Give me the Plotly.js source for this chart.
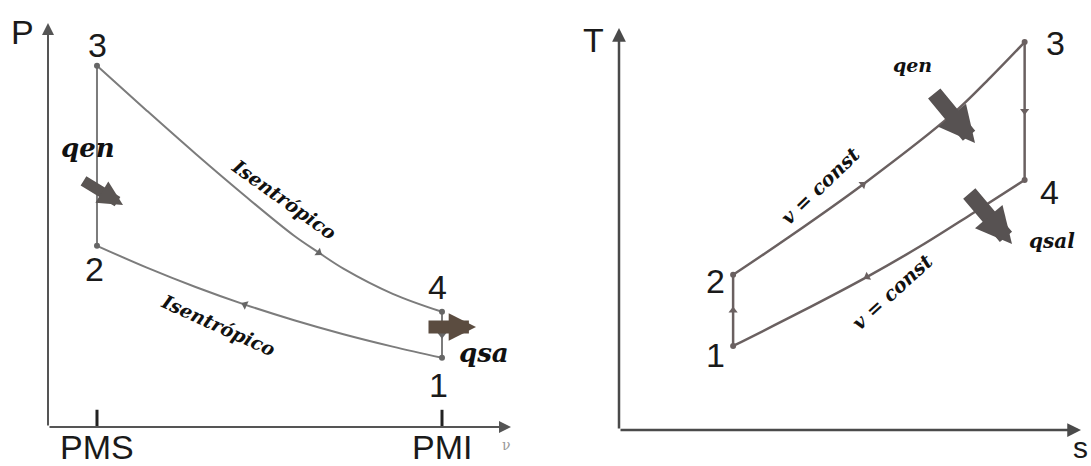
<!DOCTYPE html>
<html>
<head>
<meta charset="utf-8">
<script src="https://cdn.plot.ly/plotly-3.0.1.min.js"></script>
<style>html,body{margin:0;padding:0;background:#fff;}#chart{width:1091px;height:466px;}</style>
</head>
<body>
<div id="chart"></div>
<script>
// ---------- P-v diagram (Otto cycle) ----------
// compression 1 -> 2 (isentropic)
const vCompression = [8, 7, 6, 5, 4, 3, 2, 1];
const pCompression = [1.73, 2.01, 2.32, 2.67, 3.06, 3.50, 3.99, 4.53];
// expansion 3 -> 4 (isentropic)
const vExpansion = [1, 2, 3, 4, 5, 5.5, 6, 7, 8];
const pExpansion = [9.03, 7.92, 6.83, 5.78, 4.78, 4.36, 3.96, 3.33, 2.88];
// states 1..4
const stateNames = ['1', '2', '3', '4'];
const vStates = [8, 1, 1, 8];
const pStates = [1.73, 4.53, 9.03, 2.88];
// v axis marks
const vTickVals = [1, 8];
const vTickText = ['PMS', 'PMI'];

// ---------- T-s diagram ----------
// heat addition 2 -> 3 (v = const)
const sHeatAdd = [2.47, 3.64, 5.28, 7.23, 8.03, 8.78];
const tHeatAdd = [3.86, 4.77, 6.11, 7.87, 8.76, 9.65];
// heat rejection 4 -> 1 (v = const)
const sHeatRej = [8.78, 7.6, 6.52, 5.37, 3.92, 2.47];
const tHeatRej = [6.22, 5.35, 4.57, 3.81, 2.93, 2.09];
const sStates = [2.47, 2.47, 8.78, 8.78];
const tStates = [2.09, 3.86, 9.65, 6.22];

const W = 1091, H = 466;
const X = px => px / W;
const Y = py => 1 - py / H;

const grayL = '#7c7c7c';
const grayR = '#6a6060';
const mid = (a, b) => (a + b) / 2;

const traces = [
  // left: curves
  {x: vCompression, y: pCompression, xaxis: 'x', yaxis: 'y', mode: 'lines',
   line: {color: grayL, width: 2, shape: 'spline', smoothing: 1}},
  {x: vExpansion, y: pExpansion, xaxis: 'x', yaxis: 'y', mode: 'lines',
   line: {color: grayL, width: 2, shape: 'spline', smoothing: 1}},
  {x: [vStates[1], vStates[2]], y: [pStates[1], pStates[2]], xaxis: 'x', yaxis: 'y', mode: 'lines',
   line: {color: grayL, width: 2}},
  {x: [vStates[3], vStates[0]], y: [pStates[3], pStates[0]], xaxis: 'x', yaxis: 'y', mode: 'lines',
   line: {color: grayL, width: 2}},
  {x: vStates, y: pStates, xaxis: 'x', yaxis: 'y', mode: 'markers',
   marker: {color: '#666', size: 6}},
  // left: direction markers
  {x: [vExpansion[5], vCompression[4], vStates[3]],
   y: [pExpansion[5], pCompression[4], mid(pStates[3], pStates[0])],
   xaxis: 'x', yaxis: 'y', mode: 'markers',
   marker: {color: '#666', size: 8, symbol: ['triangle-right', 'triangle-left', 'triangle-down'], angle: [36, 24, 0]}},

  // right: curves
  {x: sHeatAdd, y: tHeatAdd, xaxis: 'x2', yaxis: 'y2', mode: 'lines',
   line: {color: grayR, width: 2.5, shape: 'spline', smoothing: 1}},
  {x: sHeatRej, y: tHeatRej, xaxis: 'x2', yaxis: 'y2', mode: 'lines',
   line: {color: grayR, width: 2.5, shape: 'spline', smoothing: 1}},
  {x: [sStates[0], sStates[1]], y: [tStates[0], tStates[1]], xaxis: 'x2', yaxis: 'y2', mode: 'lines',
   line: {color: grayR, width: 2.5}},
  {x: [sStates[2], sStates[3]], y: [tStates[2], tStates[3]], xaxis: 'x2', yaxis: 'y2', mode: 'lines',
   line: {color: grayR, width: 2.5}},
  {x: sStates, y: tStates, xaxis: 'x2', yaxis: 'y2', mode: 'markers',
   marker: {color: grayR, size: 6}},
  {x: [sHeatAdd[2], sHeatRej[3], sStates[0], sStates[2]],
   y: [tHeatAdd[2], tHeatRej[3], mid(tStates[0], tStates[1]), mid(tStates[2], tStates[3])],
   xaxis: 'x2', yaxis: 'y2', mode: 'markers',
   marker: {color: grayR, size: 8, symbol: ['triangle-right', 'triangle-left', 'triangle-up', 'triangle-down'], angle: [-38, -30, 0, 0]}}
];

const numFont = {family: 'Liberation Sans, Arial, sans-serif', size: 34, color: '#1a1a1a'};
const serifFont = (size) => ({family: 'DejaVu Serif, serif', size: size, color: '#111', weight: 'bold', style: 'italic'});

function lbl(text, px, py, font, extra) {
  return Object.assign({text: text, xref: 'paper', yref: 'paper', x: X(px), y: Y(py),
    showarrow: false, font: font, xanchor: 'center', yanchor: 'middle'}, extra || {});
}
function arrow(tipX, tipY, tailX, tailY, color, width, size, head) {
  return {text: '', xref: 'paper', yref: 'paper', x: X(tipX), y: Y(tipY),
    ax: tailX - tipX, ay: tailY - tipY, showarrow: true, arrowhead: head, arrowsize: size,
    arrowwidth: width, arrowcolor: color, standoff: 0, startstandoff: 0};
}

const annotations = [
  // axes arrows
  arrow(48, 23, 48, 427, '#555', 2, 1.2, 2),
  arrow(511, 427, 48, 427, '#555', 2, 1.2, 2),
  arrow(619, 28, 619, 430, '#4a4a4a', 2.5, 1.1, 2),
  arrow(1081, 430, 619, 430, '#4a4a4a', 2.5, 1.1, 2),
  // axis labels
  lbl('P', 23, 32, numFont),
  lbl('T', 594, 40, numFont),
  lbl('s', 1090, 466, {family: 'Liberation Sans, Arial, sans-serif', size: 30, color: '#1a1a1a'},
      {xanchor: 'right', yanchor: 'bottom'}),
  lbl('ν', 506, 445, {family: 'DejaVu Serif, serif', size: 14, color: '#999'}),
  // state labels, left
  lbl(stateNames[2], 97, 45, numFont),
  lbl(stateNames[1], 94, 269, numFont),
  lbl(stateNames[3], 437, 287, numFont),
  lbl(stateNames[0], 438, 385, numFont),
  // state labels, right
  lbl(stateNames[0], 715, 355, numFont),
  lbl(stateNames[1], 715, 281, numFont),
  lbl(stateNames[2], 1055, 43, numFont),
  lbl(stateNames[3], 1049, 192, numFont),
  // process labels
  lbl('Isentrópico', 284, 199, serifFont(19), {textangle: 35.5}),
  lbl('Isentrópico', 218, 325, serifFont(19), {textangle: 24.4}),
  lbl('v = const', 820, 186, serifFont(19.5), {textangle: -44}),
  lbl('v = const', 892, 292, serifFont(19.5), {textangle: -42.5}),
  lbl('qen', 88, 148, serifFont(26)),
  lbl('qsa', 484, 353, serifFont(26)),
  lbl('qen', 912, 65, serifFont(19)),
  lbl('qsal', 1052, 241, serifFont(20)),
  // heat arrows
  arrow(123, 205, 82, 180, '#5a5553', 11, 0.45, 2),
  arrow(476, 327, 427, 327, '#5b4c40', 13, 0.42, 2),
  arrow(975, 143, 933, 92, '#575252', 16, 0.45, 2),
  arrow(1012, 244, 968, 192, '#575252', 16, 0.45, 2)
];

const shapes = vTickVals.map(v => ({type: 'line', xref: 'x', yref: 'y', x0: v, x1: v, y0: -0.1, y1: 0.43,
  line: {color: '#222', width: 3}}));

vTickVals.forEach((v, i) => {
  annotations.push({text: vTickText[i], xref: 'x', yref: 'paper', x: v, y: Y(447),
    showarrow: false, font: numFont, xanchor: 'center', yanchor: 'middle'});
});

const hidden = {showgrid: false, zeroline: false, showticklabels: false, showline: false, ticks: '', fixedrange: true};

const layout = {
  width: W, height: H,
  margin: {l: 0, r: 0, t: 0, b: 0},
  paper_bgcolor: '#ffffff', plot_bgcolor: 'rgba(0,0,0,0)',
  showlegend: false,
  xaxis: Object.assign({domain: [47.7 / W, 511 / W], range: [0, 9.4]}, hidden),
  yaxis: Object.assign({domain: [Y(427), Y(23)], range: [0, 10.1]}, hidden),
  xaxis2: Object.assign({domain: [619 / W, 1081 / W], range: [0, 10], anchor: 'y2'}, hidden),
  yaxis2: Object.assign({domain: [Y(430), Y(28)], range: [0, 10], anchor: 'x2'}, hidden),
  annotations: annotations,
  shapes: shapes
};

Plotly.newPlot('chart', traces, layout, {displayModeBar: false, staticPlot: true});
</script>
</body>
</html>
